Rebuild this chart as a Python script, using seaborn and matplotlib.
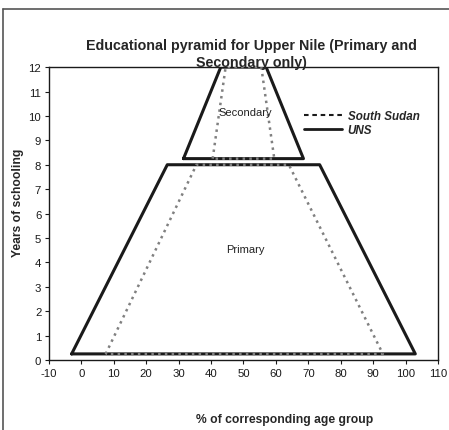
import matplotlib
matplotlib.use('Agg')
import matplotlib.pyplot as plt
import pandas as pd
import seaborn as sns
from matplotlib.lines import Line2D

# Datos (poligonos cerrados: primaria y secundaria)
uns_primary_x = [-3, 26.5, 73.5, 103, -3]
uns_primary_y = [0.25, 8, 8, 0.25, 0.25]
uns_secondary_x = [31.5, 43, 57, 68.5, 31.5]
uns_secondary_y = [8.25, 12, 12, 8.25, 8.25]

ss_primary_x = [7.5, 35.5, 64, 93, 7.5]
ss_primary_y = [0.25, 8, 8, 0.25, 0.25]
ss_secondary_x = [40.5, 44.5, 55.5, 59.5, 40.5]
ss_secondary_y = [8.25, 12, 12, 8.25, 8.25]

x_ticks = list(range(-10, 111, 10))
y_ticks = list(range(0, 13))


def make_df(px, py, sx, sy):
    a = pd.DataFrame({'pct': px, 'years': py, 'level': 'Primary'})
    b = pd.DataFrame({'pct': sx, 'years': sy, 'level': 'Secondary'})
    return pd.concat([a, b], ignore_index=True)


df_uns = make_df(uns_primary_x, uns_primary_y, uns_secondary_x, uns_secondary_y)
df_ss = make_df(ss_primary_x, ss_primary_y, ss_secondary_x, ss_secondary_y)

sns.set_style('white')
plt.rcParams['font.family'] = ['Liberation Sans', 'DejaVu Sans']

fig = plt.figure(figsize=(4.49, 4.31), dpi=100)
ax = fig.add_axes([0.109, 0.1624, 0.8665, 0.6796])

sns.lineplot(data=df_uns, x='pct', y='years', units='level', estimator=None,
             sort=False, color='#1a1a1a', linewidth=2.2, ax=ax, zorder=2)
sns.lineplot(data=df_ss, x='pct', y='years', units='level', estimator=None,
             sort=False, color='#808080', linewidth=1.8,
             linestyle=(0, (1, 1.7)), ax=ax, zorder=3)

ax.set_xlim(-10, 110)
ax.set_ylim(0, 12)
ax.set_xticks(x_ticks)
ax.set_xticklabels([str(v) for v in x_ticks])
ax.set_yticks(y_ticks)
ax.set_yticklabels([str(v) for v in y_ticks])
ax.tick_params(axis='both', labelsize=8.2, length=3, width=0.8, direction='out',
               bottom=True, left=True, colors='#1a1a1a', pad=2.5)
for s in ax.spines.values():
    s.set_color('#1a1a1a')
    s.set_linewidth(1.0)

ax.text(50.5, 10.15, 'Secondary', fontsize=8, ha='center', va='center', color='#222222')
ax.text(50.5, 4.55, 'Primary', fontsize=8, ha='center', va='center', color='#222222')

ax.set_title('Educational pyramid for Upper Nile (Primary and\nSecondary only)',
             fontsize=10.3, fontweight='bold', pad=1, x=0.52, linespacing=1.25)
ax.set_xlabel('% of corresponding age group', fontsize=8.7, fontweight='bold')
ax.set_ylabel('Years of schooling', fontsize=8.7, fontweight='bold')
ax.xaxis.set_label_coords(0.605, -0.18)
ax.yaxis.set_label_coords(-0.065, 0.54)

handles = [Line2D([], [], color='#1a1a1a', linestyle=(0, (2.2, 1.8)), linewidth=1.5),
           Line2D([], [], color='#1a1a1a', linewidth=2.0)]
leg = fig.legend(handles, ['South Sudan', 'UNS'], loc='upper left',
                 bbox_to_anchor=(0.665, 0.755), frameon=False,
                 prop={'size': 8.4, 'weight': 'bold', 'style': 'italic'},
                 handlelength=3.2, handletextpad=0.5, labelspacing=0.15,
                 borderpad=0)

# borde del grafico (arriba e izquierda)
fig.add_artist(Line2D([0.007, 0.007], [0, 0.977], color='#555555', linewidth=1.2,
                      transform=fig.transFigure))
fig.add_artist(Line2D([0.007, 1.0], [0.977, 0.977], color='#555555', linewidth=1.2,
                      transform=fig.transFigure))

fig.savefig('out.png', dpi=100)
